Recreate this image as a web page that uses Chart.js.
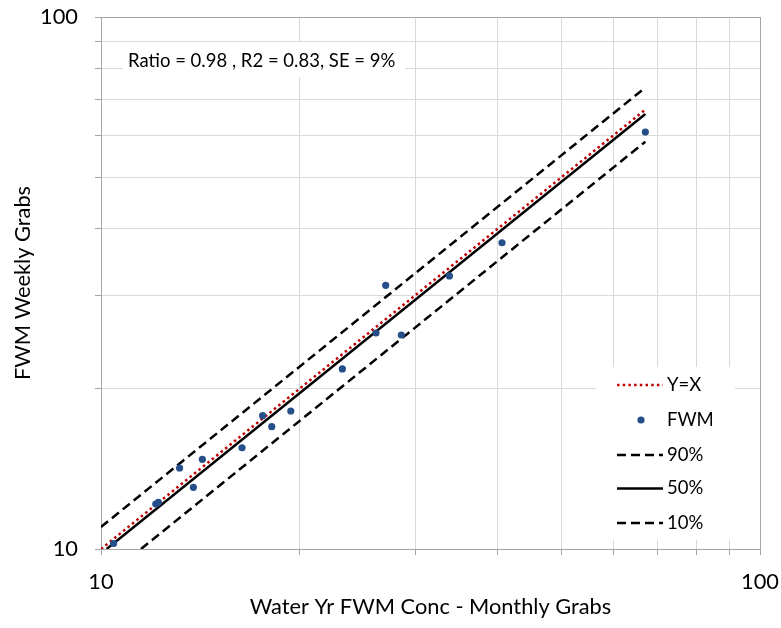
<!DOCTYPE html>
<html><head><meta charset="utf-8">
<script src="https://cdn.jsdelivr.net/npm/chart.js@4"></script>
<style>html,body{margin:0;padding:0;background:#fff;}#wrap{width:781px;height:628px;}</style>
</head><body><div id="wrap"><canvas id="c" width="781" height="628"></canvas></div>
<script>
// ---- data ----
const fwmMonthly = [10.45, 12.11, 12.22, 13.16, 13.81, 14.25, 16.37, 17.59, 18.16, 19.41, 23.24, 26.14, 27.04, 28.56, 33.78, 40.60, 66.99];
const fwmWeekly  = [10.24, 12.15, 12.24, 14.20, 13.06, 14.74, 15.50, 17.81, 16.98, 18.17, 21.80, 25.47, 31.31, 25.25, 32.60, 37.64, 60.78];
const refX = [10, 67],   refY = [10, 67];
const p90X = [10, 67],   p90Y = [11.0, 73.7];
const p50X = [10.2, 67], p50Y = [10, 65.7];
const p10X = [11.5, 67], p10Y = [10, 58.3];
const gridTicks = [10, 20, 30, 40, 50, 60, 70, 80, 90, 100];
const labeledTicks = [10, 100];
const statsText = 'Ratio = 0.98 , R2 = 0.83, SE = 9%';
const xTitle = 'Water Yr FWM Conc - Monthly Grabs';
const yTitle = 'FWM Weekly Grabs';

const FONT = 'Lato';
const FS = 18.5;   // legend / stats text
const AFS = 21.8;  // axis text
const pts = (xs, ys) => xs.map((x, i) => ({x, y: ys[i]}));

const dsFWM = {label:'FWM', data: pts(fwmMonthly, fwmWeekly), showLine:false, pointRadius:3.6, pointHoverRadius:3.6,
  pointBackgroundColor:'#264F8A', pointBorderColor:'#264F8A', borderColor:'#264F8A', backgroundColor:'#264F8A', pointBorderWidth:0};
const lineDs = (label, xs, ys, color, dash, w) => ({label, data: pts(xs, ys), showLine:true, pointRadius:0, pointHoverRadius:0,
  borderColor:color, backgroundColor:color, borderWidth:w, borderDash:dash, fill:false, tension:0});
const dsRef = lineDs('Y=X', refX, refY, '#C00000', [2.5, 3.2], 2.5);
const ds90 = lineDs('90%', p90X, p90Y, '#000000', [9, 5], 2.5);
const ds50 = lineDs('50%', p50X, p50Y, '#000000', [], 2.5);
const ds10 = lineDs('10%', p10X, p10Y, '#000000', [9, 5], 2.5);
const legendOrder = [dsRef, dsFWM, ds90, ds50, ds10];

const overlay = {
  id: 'overlay',
  beforeDatasetsDraw(chart) {
    const c = chart.ctx;
    c.save();
    c.fillStyle = '#fff';
    c.fillRect(123, 42, 282, 35);
    c.fillStyle = '#000';
    c.font = FS + 'px ' + FONT;
    c.textBaseline = 'middle';
    c.textAlign = 'left';
    c.fillText(statsText, 128, 61);
    c.fillStyle = '#fff';
    c.fillRect(596, 367, 139, 173);
    const rows = [385, 420, 455, 488.5, 523];
    legendOrder.forEach((ds, i) => {
      const y = rows[i];
      if (ds.showLine) {
        c.strokeStyle = ds.borderColor;
        c.lineWidth = ds.borderWidth;
        c.setLineDash(ds.borderDash);
        c.beginPath(); c.moveTo(617, y); c.lineTo(663, y); c.stroke();
        c.setLineDash([]);
      } else {
        c.fillStyle = ds.pointBackgroundColor;
        c.beginPath(); c.arc(641, y, ds.pointRadius, 0, Math.PI * 2); c.fill();
      }
      c.fillStyle = '#000';
      c.fillText(ds.label, 667, y);
    });
    c.restore();
  }
};

const gridColor = ctx => (ctx.tick && ctx.tick.value === 100) ? '#a6a6a6' : '#d9d9d9';
const tickCb = v => labeledTicks.includes(v) ? String(v) : '';
const setTicks = s => { s.ticks = gridTicks.map(v => ({ value: v })); };
const noPad = s => { s.paddingTop = 0; s.paddingBottom = 0; s.paddingLeft = 0; s.paddingRight = 0; };

new Chart(document.getElementById('c'), {
  type: 'scatter',
  data: { datasets: [dsFWM, dsRef, ds90, ds50, ds10] },
  options: {
    responsive: false, animation: false, devicePixelRatio: 1,
    layout: { padding: { top: 17, right: 21, left: 0, bottom: 0 } },
    plugins: { legend: { display: false }, tooltip: { enabled: false } },
    scales: {
      x: {
        type: 'logarithmic', min: 10, max: 100, position: 'bottom',
        afterBuildTicks: setTicks,
        afterFit: s => { s.height = 79; noPad(s); },
        ticks: { autoSkip: false, maxRotation: 0, padding: 14, color: '#000', font: { family: FONT, size: AFS }, callback: tickCb },
        grid: { color: gridColor, lineWidth: 1, tickLength: 6, tickColor: '#a6a6a6' },
        border: { color: '#a6a6a6', width: 1 },
        title: { display: true, text: xTitle, color: '#000', font: { family: FONT, size: AFS }, padding: { top: 0, bottom: 8 } }
      },
      y: {
        type: 'logarithmic', min: 10, max: 100, position: 'left',
        afterBuildTicks: setTicks,
        afterFit: s => { s.width = 101; noPad(s); },
        ticks: { autoSkip: false, padding: 17, color: '#000', font: { family: FONT, size: AFS }, callback: tickCb },
        grid: { color: gridColor, lineWidth: 1, tickLength: 6, tickColor: '#a6a6a6' },
        border: { color: '#a6a6a6', width: 1 },
        title: { display: true, text: yTitle, color: '#000', font: { family: FONT, size: AFS }, padding: { top: 9.6, bottom: 0 } }
      }
    }
  },
  plugins: [overlay]
});
</script></body></html>
